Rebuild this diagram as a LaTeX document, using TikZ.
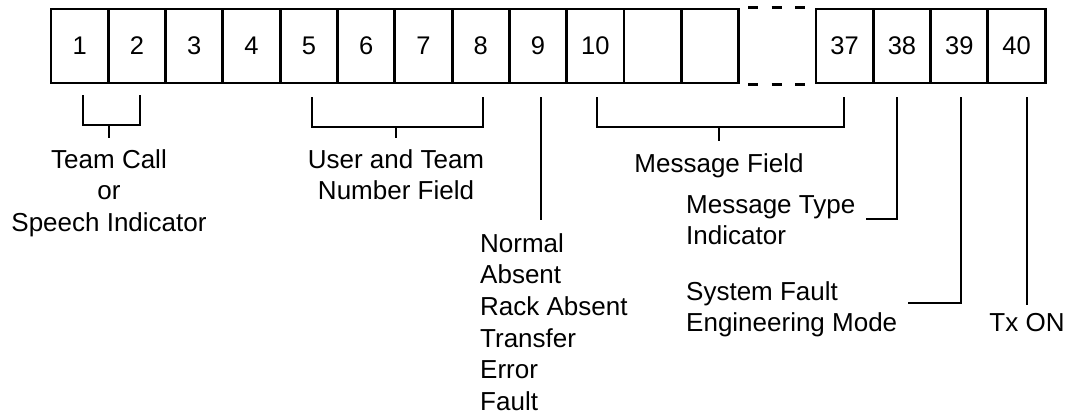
\documentclass[tikz,border=0pt]{standalone}
\usepackage{fontspec}
\setmainfont{Liberation Sans}
\begin{document}
\begin{tikzpicture}[x=1pt,y=1pt,
  cell/.style={draw, line width=2.9pt, minimum width=57.3pt, minimum height=74pt,
               inner sep=0pt, font=\fontsize{25.5}{30}\selectfont},
  brk/.style={line width=2.6pt},
  lbl/.style={inner sep=0pt, font=\fontsize{26}{31.7}\selectfont},
  gap/.style={line width=2.9pt, dash pattern=on 10pt off 13.5pt, dash phase=15.5pt}]
\useasboundingbox (0,0) rectangle (1071,-416);

% the 40-bit word: bits 1 to 12, a dashed gap, then bits 37 to 40
\node[cell] (b1)  at (79.65,-46)  {1};
\node[cell] (b2)  at (136.95,-46) {2};
\node[cell] (b3)  at (194.25,-46) {3};
\node[cell] (b4)  at (251.55,-46) {4};
\node[cell] (b5)  at (308.85,-46) {5};
\node[cell] (b6)  at (366.15,-46) {6};
\node[cell] (b7)  at (423.45,-46) {7};
\node[cell] (b8)  at (480.75,-46) {8};
\node[cell] (b9)  at (538.05,-46) {9};
\node[cell] (b10) at (595.35,-46) {10};
\node[cell] (b11) at (652.65,-46) {};
\node[cell] (b12) at (709.95,-46) {};
\node[cell] (b37) at (844.65,-46) {37};
\node[cell] (b38) at (901.95,-46) {38};
\node[cell] (b39) at (959.25,-46) {39};
\node[cell] (b40) at (1016.55,-46) {40};

\draw[gap] (b12.north east) -- (b37.north west);
\draw[gap] (b12.south east) -- (b37.south west);

% field labels (base anchor = baseline of the last line)
\node[lbl, anchor=base, align=center] (lab1) at (109,-231.4)
  {Team Call\\or\\Speech Indicator};
\node[lbl, anchor=base, align=center] (lab2) at (396,-199.7)
  {User and Team\\Number Field};
\node[lbl, anchor=base west, align=left] (lab9) at (480,-410.5)
  {Normal\\Absent\\Rack Absent\\Transfer\\Error\\Fault};
\node[lbl, anchor=base] (labm) at (719,-172) {Message Field};
\node[lbl, anchor=base west, align=left] (lab38) at (686,-244.7)
  {Message Type\\Indicator};
\node[lbl, anchor=base west, align=left] (lab39) at (686,-331.7)
  {System Fault\\Engineering Mode};
\node[lbl, anchor=base] (lab40) at (1027,-331.7) {Tx ON};

% brackets and leader lines
\coordinate (k1) at (83,-95);
\coordinate (k2) at (140,-95);
\draw[brk] (k1) -- ++(0,-30) -| (k2);
\draw[brk] (lab1.north |- 0,-125) -- (lab1.north |- 0,-138);

\coordinate (k5) at (312,-97);
\coordinate (k8) at (483,-97);
\draw[brk] (k5) -- ++(0,-30) -| (k8);
\draw[brk] (lab2.north |- 0,-127) -- (lab2.north |- 0,-138);

\coordinate (k9) at (541,-97);
\coordinate (e9) at (541,-220);
\draw[brk] (k9) -- (e9);

\coordinate (k10) at (597,-97);
\coordinate (k37) at (844,-97);
\draw[brk] (k10) -- ++(0,-30) -| (k37);
\draw[brk] (labm.north |- 0,-127) -- (labm.north |- 0,-141);

\coordinate (k38) at (897,-97);
\coordinate (e38) at (866,-219);
\draw[brk] (k38) |- (e38);

\coordinate (k39) at (961,-97);
\coordinate (e39) at (908,-303);
\draw[brk] (k39) |- (e39);

\coordinate (k40) at (1027,-97);
\draw[brk] (k40) -- (lab40.north |- 0,-305);
\end{tikzpicture}
\end{document}
